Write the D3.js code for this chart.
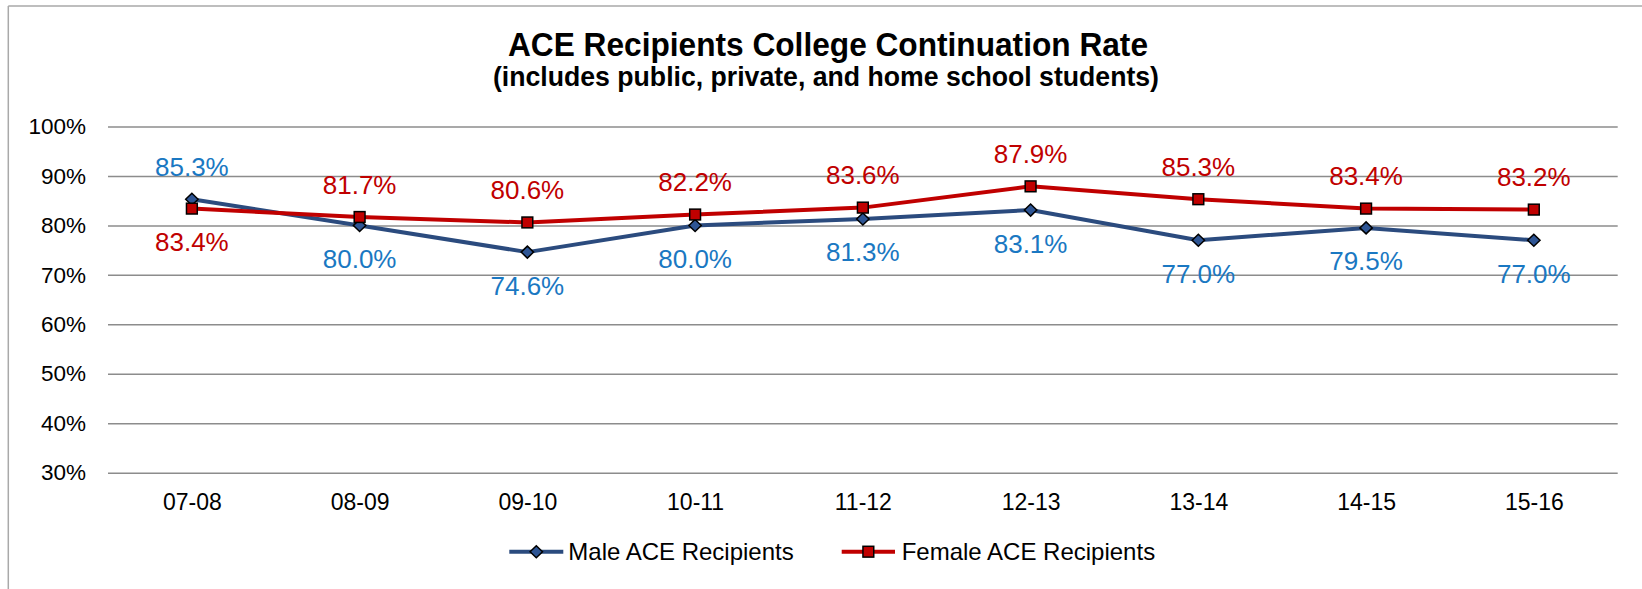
<!DOCTYPE html>
<html>
<head>
<meta charset="utf-8">
<script src="https://cdn.jsdelivr.net/npm/d3@7"></script>
<style>
  html, body { margin: 0; padding: 0; background: #fff; }
  svg { display: block; font-family: "Liberation Sans", Arial, sans-serif; }
</style>
</head>
<body>
<svg id="chart" width="1642" height="589"></svg>
<script>
// ---- data ----
const categories = ["07-08", "08-09", "09-10", "10-11", "11-12", "12-13", "13-14", "14-15", "15-16"];
const maleValues = [0.853, 0.800, 0.746, 0.800, 0.813, 0.831, 0.770, 0.795, 0.770];
const femaleValues = [0.834, 0.817, 0.806, 0.822, 0.836, 0.879, 0.853, 0.834, 0.832];
const yTicks = [0.3, 0.4, 0.5, 0.6, 0.7, 0.8, 0.9, 1.0];
const seriesNames = ["Male ACE Recipients", "Female ACE Recipients"];
const titleText = "ACE Recipients College Continuation Rate";
const subtitleText = "(includes public, private, and home school students)";

// ---- layout ----
const svg = d3.select("#chart");
const plotLeft = 108, plotRight = 1617.7, plotTop = 126.5, plotBottom = 472.7;

const x = d3.scalePoint().domain(categories).range([plotLeft, plotRight]).padding(0.5);
const y = d3.scaleLinear().domain([0.3, 1.0]).range([plotBottom, plotTop]);

// chart border (left and top visible)
svg.append("line").attr("x1", 8.3).attr("x2", 8.3).attr("y1", 6).attr("y2", 589)
  .attr("stroke", "#a9a9a9").attr("stroke-width", 1.5);
svg.append("line").attr("x1", 8.3).attr("x2", 1642).attr("y1", 6).attr("y2", 6)
  .attr("stroke", "#a9a9a9").attr("stroke-width", 1.5);

// title
svg.append("text").attr("x", 828).attr("y", 56).attr("text-anchor", "middle")
  .attr("font-size", 33).attr("font-weight", "bold").attr("fill", "#000")
  .attr("textLength", 640).attr("lengthAdjust", "spacingAndGlyphs")
  .text(titleText);
svg.append("text").attr("x", 826).attr("y", 86).attr("text-anchor", "middle")
  .attr("font-size", 27.5).attr("font-weight", "bold").attr("fill", "#000")
  .attr("textLength", 666).attr("lengthAdjust", "spacingAndGlyphs")
  .text(subtitleText);

// y gridlines + labels via axis
const yAxis = d3.axisLeft(y).tickValues(yTicks).tickFormat(d3.format(".0%"))
  .tickSize(-(plotRight - plotLeft)).tickPadding(22);
const gy = svg.append("g").attr("transform", `translate(${plotLeft},0)`).call(yAxis);
gy.select(".domain").remove();
gy.selectAll(".tick line").attr("stroke", "#8c8c8c").attr("stroke-width", 1.5);
gy.selectAll(".tick text").attr("font-size", 22.5).attr("fill", "#000")
  .attr("font-family", "Liberation Sans, Arial, sans-serif");

// x axis labels
const xAxis = d3.axisBottom(x).tickSize(0).tickPadding(0);
const gx = svg.append("g").attr("transform", `translate(0,${plotBottom})`).call(xAxis);
gx.select(".domain").remove();
gx.selectAll(".tick text").attr("font-size", 23).attr("fill", "#000")
  .attr("dy", null).attr("y", 37.3)
  .attr("font-family", "Liberation Sans, Arial, sans-serif");

// series
const series = [
  { name: seriesNames[0], values: maleValues, other: femaleValues, line: "#2B4B7E", fill: "#2E5594", label: "#1A78C2", marker: "diamond" },
  { name: seriesNames[1], values: femaleValues, other: maleValues, line: "#C00000", fill: "#C00000", label: "#C00000", marker: "square" }
];

const lineGen = d3.line().x((d, i) => x(categories[i])).y(d => y(d));

function drawMarker(g, type, cx, cy, fill) {
  if (type === "diamond") {
    g.append("path")
      .attr("d", `M${cx},${cy - 6} L${cx + 6.2},${cy} L${cx},${cy + 6} L${cx - 6.2},${cy} Z`)
      .attr("fill", fill).attr("stroke", "#000").attr("stroke-width", 1.5);
  } else {
    g.append("rect").attr("x", cx - 5.4).attr("y", cy - 5.4).attr("width", 10.8).attr("height", 10.8)
      .attr("fill", fill).attr("stroke", "#000").attr("stroke-width", 1.5);
  }
}

series.forEach(s => {
  svg.append("path").datum(s.values).attr("d", lineGen)
    .attr("fill", "none").attr("stroke", s.line).attr("stroke-width", 4)
    .attr("stroke-linejoin", "round");
});
series.forEach(s => {
  const g = svg.append("g");
  s.values.forEach((v, i) => drawMarker(g, s.marker, x(categories[i]), y(v), s.fill));
});

// data labels: above if higher than other series, below otherwise
const fmt = d3.format(".1%");
series.forEach(s => {
  svg.append("g").selectAll("text").data(s.values).join("text")
    .attr("x", (d, i) => x(categories[i]))
    .attr("y", (d, i) => y(d) + (d > s.other[i] ? -23.5 : 42.5))
    .attr("text-anchor", "middle").attr("font-size", 26).attr("fill", s.label)
    .text(d => fmt(d));
});

// legend
const legendY = 551.7;
const legendItems = [
  { s: series[0], x1: 509.3, x2: 563.3, tx: 568.3 },
  { s: series[1], x1: 841.7, x2: 895, tx: 901.7 }
];
const lg = svg.append("g");
legendItems.forEach(it => {
  lg.append("line").attr("x1", it.x1).attr("x2", it.x2).attr("y1", legendY).attr("y2", legendY)
    .attr("stroke", it.s.line).attr("stroke-width", 4);
  drawMarker(lg, it.s.marker, (it.x1 + it.x2) / 2, legendY, it.s.fill);
  lg.append("text").attr("x", it.tx).attr("y", 560).attr("font-size", 24).attr("fill", "#000")
    .text(it.s.name);
});
</script>
</body>
</html>
